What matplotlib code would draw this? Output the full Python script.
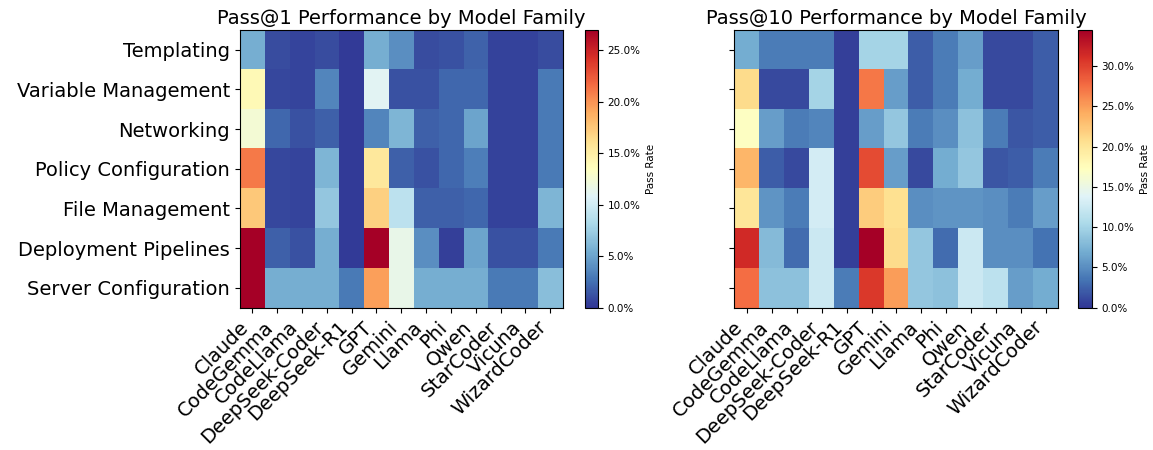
import matplotlib
matplotlib.use('Agg')
import matplotlib.pyplot as plt
import numpy as np
from matplotlib.ticker import FuncFormatter

categories = ['Templating', 'Variable Management', 'Networking', 'Policy Configuration',
              'File Management', 'Deployment Pipelines', 'Server Configuration']
models = ['Claude', 'CodeGemma', 'CodeLlama', 'DeepSeek-Coder', 'DeepSeek-R1', 'GPT',
          'Gemini', 'Llama', 'Phi', 'Qwen', 'StarCoder', 'Vicuna', 'WizardCoder']

# pass rates in percent, rows = categories, cols = models
pass1 = [
    [5.5, 1.0, 0.7, 1.0, 0.3, 5.5, 4.0, 1.0, 1.2, 2.0, 0.6, 0.6, 1.0],
    [14.0, 0.8, 0.7, 3.5, 0.3, 11.0, 1.2, 1.2, 2.2, 2.2, 0.6, 0.6, 3.0],
    [12.5, 2.2, 1.2, 1.8, 0.3, 3.5, 6.0, 1.8, 2.2, 5.0, 0.6, 0.6, 3.0],
    [21.0, 0.8, 0.7, 6.0, 0.3, 15.5, 1.8, 1.2, 2.2, 3.2, 0.6, 0.6, 3.0],
    [17.5, 0.8, 0.7, 7.0, 0.3, 17.0, 9.0, 1.8, 1.8, 2.2, 0.6, 0.6, 6.0],
    [27.0, 1.8, 1.2, 5.5, 0.3, 27.0, 11.5, 4.0, 0.5, 5.0, 1.2, 1.2, 3.0],
    [27.0, 5.5, 5.5, 5.5, 3.0, 19.5, 11.5, 5.5, 5.5, 5.5, 3.0, 3.0, 6.5],
]
pass10 = [
    [7.0, 4.0, 4.0, 4.0, 0.6, 10.0, 10.0, 2.2, 4.0, 6.0, 1.2, 1.2, 2.2],
    [21.0, 1.2, 1.2, 10.0, 0.6, 27.0, 6.0, 2.2, 4.0, 7.0, 1.2, 1.2, 2.2],
    [17.0, 6.0, 4.0, 4.5, 0.6, 6.0, 9.0, 4.0, 5.0, 8.5, 4.0, 1.8, 2.2],
    [23.5, 2.2, 1.2, 13.0, 0.6, 29.5, 6.0, 1.2, 7.0, 9.0, 1.8, 2.2, 4.0],
    [20.0, 5.5, 4.0, 13.0, 0.6, 22.0, 20.5, 5.0, 5.5, 5.5, 5.0, 4.0, 6.0],
    [31.5, 8.0, 3.0, 12.5, 0.6, 34.5, 21.0, 9.0, 3.0, 12.5, 5.0, 5.0, 3.5],
    [27.5, 8.5, 8.5, 12.5, 4.0, 30.5, 25.0, 9.0, 8.5, 12.5, 11.5, 6.0, 7.0],
]

fig = plt.figure(figsize=(11.53, 4.5), dpi=100)
pct = FuncFormatter(lambda v, p: f'{v:.1f}%')

panels = [
    (pass1, 'Pass@1 Performance by Model Family', [0.208, 0.316, 0.280, 0.618], [0.507, 0.316, 0.0115, 0.618], True),
    (pass10, 'Pass@10 Performance by Model Family', [0.637, 0.316, 0.281, 0.618], [0.935, 0.316, 0.012, 0.618], False),
]
for data, title, pos, cpos, ylab in panels:
    ax = fig.add_axes(pos)
    arr = np.array(data)
    im = ax.imshow(arr, cmap='RdYlBu_r', aspect='auto', vmin=0, vmax=arr.max())
    ax.set_title(title, fontsize=14, pad=4)
    ax.set_xticks(range(len(models)))
    ax.set_xticklabels(models, rotation=45, ha='right', fontsize=14)
    ax.set_yticks(range(len(categories)))
    if ylab:
        ax.set_yticklabels(categories, fontsize=14)
    else:
        ax.set_yticklabels([])
    cax = fig.add_axes(cpos)
    cb = fig.colorbar(im, cax=cax, format=pct)
    cb.ax.tick_params(labelsize=7.5)
    cb.set_label('Pass Rate', fontsize=7.5)

plt.savefig('out.png', dpi=100)
